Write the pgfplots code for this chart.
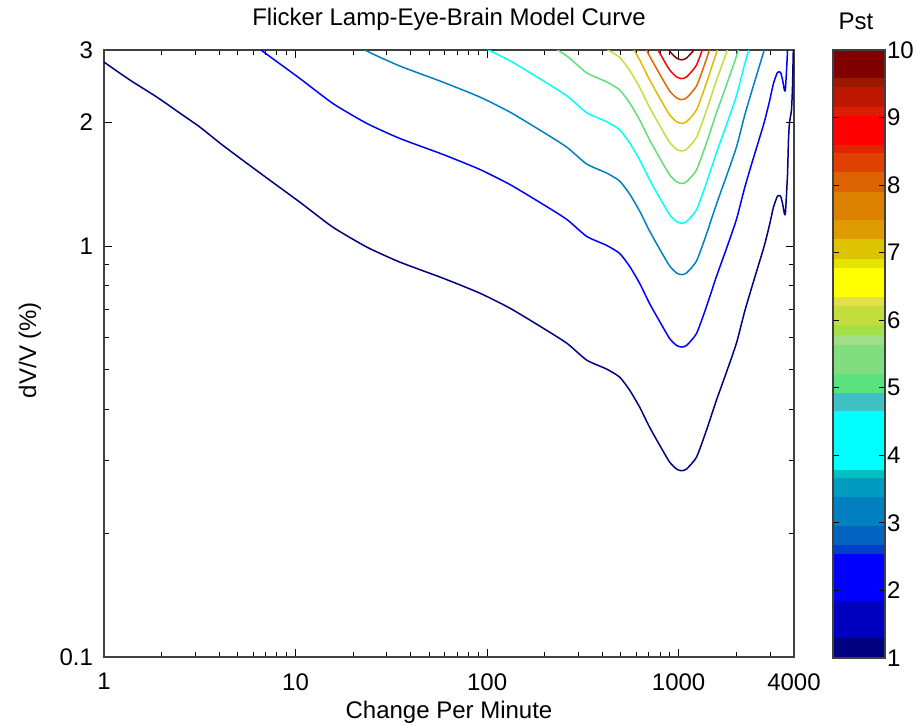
\documentclass[border=0pt]{standalone}
\usepackage{fontspec}
\setmainfont{Liberation Sans}
\usepackage{pgfplots}
\pgfplotsset{compat=1.18}
\definecolor{l1}{RGB}{0,0,128}
\definecolor{l2}{RGB}{0,0,255}
\definecolor{l3}{RGB}{0,128,192}
\definecolor{l4}{RGB}{0,255,255}
\definecolor{l5}{RGB}{95,222,125}
\definecolor{l6}{RGB}{195,222,60}
\definecolor{l7}{RGB}{225,185,0}
\definecolor{l8}{RGB}{222,105,0}
\definecolor{l9}{RGB}{255,0,0}
\definecolor{l10}{RGB}{128,0,0}
\newcommand{\fs}{\fontsize{12}{14}\selectfont}
\begin{document}
\begin{tikzpicture}
\useasboundingbox (0,0) rectangle (459pt,362.5pt);
\begin{axis}[
  at={(52pt,34pt)}, anchor=south west,
  width=345pt, height=303.5pt, scale only axis,
  xmode=log, ymode=log,
  xmin=1, xmax=4000, ymin=0.1, ymax=3,
  xtick={1,10,100,1000,4000}, xticklabels={1,10,100,1000,4000},
  minor xtick={2,3,4,5,6,7,8,9,20,30,40,50,60,70,80,90,200,300,400,500,600,700,800,900,2000,3000},
  ytick={0.1,1,2,3}, yticklabels={0.1,1,2,3},
  minor ytick={0.2,0.3,0.4,0.5,0.6,0.7,0.8,0.9},
  tick align=inside,
  major tick length=4pt, minor tick length=2.5pt,
  tick style={black, line width=0.5pt},
  axis line style={black!75, line width=0.6pt},
  /pgf/number format/assume math mode=true,
  ticklabel style={font=\fs},
  xticklabel style={yshift=-7pt, inner sep=1pt},
  yticklabel style={xshift=-2pt},
  every axis plot/.append style={line width=0.75pt, line join=round, smooth, tension=0.35},
]
\addplot[l1] coordinates {(1,2.804) (1.366,2.535) (1.890,2.304) (2.492,2.106) (3.168,1.948) (4.029,1.781) (5.122,1.637) (7.085,1.464) (10.53,1.279) (15.65,1.112) (23.54,0.9945) (35.01,0.9142) (58.67,0.8358) (91.49,0.7685) (131.2,0.7067) (188.1,0.6389) (260.1,0.5808) (330.8,0.5280) (420.6,0.5020) (491.7,0.4800) (554.5,0.4463) (625.3,0.4058) (705.0,0.3627) (795.3,0.3280) (896.7,0.2982) (975.2,0.2867) (1035,0.284) (1099.6,0.2867) (1240,0.3066) (1398,0.3567) (1576,0.4220) (1778,0.4937) (2004,0.5808) (2207,0.6910) (2401,0.7903) (2611,0.8990) (2806,1.0056) (2980,1.125) (3127,1.244) (3281,1.323) (3402,1.323) (3484,1.272) (3569,1.196) (3612,1.210) (3700,1.488) (3744,1.811) (3789,1.992) (3881,2.142) (3928,2.424) (3975,3.1)};
\addplot[l2] coordinates {(5.122,3.274) (7.085,2.928) (10.53,2.558) (15.65,2.224) (23.54,1.989) (35.01,1.828) (58.67,1.672) (91.49,1.537) (131.2,1.413) (188.1,1.278) (260.1,1.162) (330.8,1.056) (420.6,1.004) (491.7,0.960) (554.5,0.893) (625.3,0.812) (705.0,0.725) (795.3,0.656) (896.7,0.596) (975.2,0.573) (1035,0.568) (1099.6,0.573) (1240,0.613) (1398,0.713) (1576,0.844) (1778,0.987) (2004,1.162) (2207,1.382) (2401,1.581) (2611,1.798) (2806,2.011) (2980,2.250) (3127,2.488) (3281,2.646) (3402,2.646) (3484,2.544) (3569,2.392) (3612,2.420) (3700,2.976) (3744,3.622)};
\addplot[l3] coordinates {(15.65,3.336) (23.54,2.984) (35.01,2.743) (58.67,2.507) (91.49,2.306) (131.2,2.120) (188.1,1.917) (260.1,1.742) (330.8,1.584) (420.6,1.506) (491.7,1.440) (554.5,1.339) (625.3,1.217) (705.0,1.088) (795.3,0.984) (896.7,0.895) (975.2,0.860) (1035,0.852) (1099.6,0.860) (1240,0.920) (1398,1.070) (1576,1.266) (1778,1.481) (2004,1.742) (2207,2.073) (2401,2.371) (2611,2.697) (2806,3.017) (2980,3.375)};
\addplot[l4] coordinates {(91.49,3.074) (131.2,2.827) (188.1,2.556) (260.1,2.323) (330.8,2.112) (420.6,2.008) (491.7,1.920) (554.5,1.785) (625.3,1.623) (705.0,1.451) (795.3,1.312) (896.7,1.193) (975.2,1.147) (1035,1.136) (1099.6,1.147) (1240,1.226) (1398,1.427) (1576,1.688) (1778,1.975) (2004,2.323) (2207,2.764) (2401,3.161)};
\addplot[l5] coordinates {(188.1,3.195) (260.1,2.904) (330.8,2.640) (420.6,2.510) (491.7,2.400) (554.5,2.232) (625.3,2.029) (705.0,1.814) (795.3,1.640) (896.7,1.491) (975.2,1.434) (1035,1.420) (1099.6,1.434) (1240,1.533) (1398,1.784) (1576,2.110) (1778,2.469) (2004,2.904) (2207,3.455)};
\addplot[l6] coordinates {(330.8,3.168) (420.6,3.012) (491.7,2.880) (554.5,2.678) (625.3,2.435) (705.0,2.176) (795.3,1.968) (896.7,1.789) (975.2,1.720) (1035,1.704) (1099.6,1.720) (1240,1.840) (1398,2.140) (1576,2.532) (1778,2.962) (2004,3.485)};
\addplot[l7] coordinates {(491.7,3.360) (554.5,3.124) (625.3,2.841) (705.0,2.539) (795.3,2.296) (896.7,2.087) (975.2,2.007) (1035,1.988) (1099.6,2.007) (1240,2.146) (1398,2.497) (1576,2.954) (1778,3.456)};
\addplot[l8] coordinates {(554.5,3.570) (625.3,3.246) (705.0,2.902) (795.3,2.624) (896.7,2.386) (975.2,2.294) (1035,2.272) (1099.6,2.294) (1240,2.453) (1398,2.854) (1576,3.376)};
\addplot[l9] coordinates {(625.3,3.652) (705.0,3.264) (795.3,2.952) (896.7,2.684) (975.2,2.580) (1035,2.556) (1099.6,2.580) (1240,2.759) (1398,3.210)};
\addplot[l10] coordinates {(705.0,3.627) (795.3,3.280) (896.7,2.982) (975.2,2.867) (1035,2.840) (1099.6,2.867) (1240,3.066) (1398,3.567)};
\end{axis}
\begin{axis}[
  at={(416.5pt,33.5pt)}, anchor=south west,
  width=26pt, height=304pt, scale only axis,
  xmin=0, xmax=1, ymin=1, ymax=10,
  xtick=\empty, ytick={1,2,3,4,5,6,7,8,9,10},
  yticklabel pos=right, ytick pos=both,
  tick align=inside, major tick length=3pt,
  tick style={black, line width=0.6pt},
  axis line style={black!75, line width=0.6pt},
  axis on top,
  /pgf/number format/assume math mode=true,
  ticklabel style={font=\fs},
  yticklabel style={xshift=-2.5pt},
]
\addplot[draw=none, fill={rgb,255:red,0;green,0;blue,128}] coordinates {(0,1) (1,1) (1,1.29) (0,1.29)};
\addplot[draw=none, fill={rgb,255:red,0;green,0;blue,192}] coordinates {(0,1.29) (1,1.29) (1,1.84) (0,1.84)};
\addplot[draw=none, fill={rgb,255:red,0;green,0;blue,255}] coordinates {(0,1.84) (1,1.84) (1,2.54) (0,2.54)};
\addplot[draw=none, fill={rgb,255:red,0;green,64;blue,200}] coordinates {(0,2.54) (1,2.54) (1,2.67) (0,2.67)};
\addplot[draw=none, fill={rgb,255:red,0;green,100;blue,192}] coordinates {(0,2.67) (1,2.67) (1,2.96) (0,2.96)};
\addplot[draw=none, fill={rgb,255:red,0;green,128;blue,192}] coordinates {(0,2.96) (1,2.96) (1,3.38) (0,3.38)};
\addplot[draw=none, fill={rgb,255:red,0;green,155;blue,192}] coordinates {(0,3.38) (1,3.38) (1,3.66) (0,3.66)};
\addplot[draw=none, fill={rgb,255:red,0;green,192;blue,192}] coordinates {(0,3.66) (1,3.66) (1,3.79) (0,3.79)};
\addplot[draw=none, fill={rgb,255:red,0;green,255;blue,255}] coordinates {(0,3.79) (1,3.79) (1,4.66) (0,4.66)};
\addplot[draw=none, fill={rgb,255:red,64;green,192;blue,192}] coordinates {(0,4.66) (1,4.66) (1,4.92) (0,4.92)};
\addplot[draw=none, fill={rgb,255:red,90;green,225;blue,128}] coordinates {(0,4.92) (1,4.92) (1,5.21) (0,5.21)};
\addplot[draw=none, fill={rgb,255:red,128;green,222;blue,128}] coordinates {(0,5.21) (1,5.21) (1,5.64) (0,5.64)};
\addplot[draw=none, fill={rgb,255:red,160;green,222;blue,135}] coordinates {(0,5.64) (1,5.64) (1,5.78) (0,5.78)};
\addplot[draw=none, fill={rgb,255:red,165;green,225;blue,70}] coordinates {(0,5.78) (1,5.78) (1,5.93) (0,5.93)};
\addplot[draw=none, fill={rgb,255:red,195;green,222;blue,60}] coordinates {(0,5.93) (1,5.93) (1,6.21) (0,6.21)};
\addplot[draw=none, fill={rgb,255:red,225;green,225;blue,70}] coordinates {(0,6.21) (1,6.21) (1,6.35) (0,6.35)};
\addplot[draw=none, fill={rgb,255:red,255;green,255;blue,0}] coordinates {(0,6.35) (1,6.35) (1,6.78) (0,6.78)};
\addplot[draw=none, fill={rgb,255:red,228;green,228;blue,0}] coordinates {(0,6.78) (1,6.78) (1,6.90) (0,6.90)};
\addplot[draw=none, fill={rgb,255:red,222;green,195;blue,0}] coordinates {(0,6.90) (1,6.90) (1,7.20) (0,7.20)};
\addplot[draw=none, fill={rgb,255:red,222;green,155;blue,0}] coordinates {(0,7.20) (1,7.20) (1,7.48) (0,7.48)};
\addplot[draw=none, fill={rgb,255:red,220;green,128;blue,0}] coordinates {(0,7.48) (1,7.48) (1,7.90) (0,7.90)};
\addplot[draw=none, fill={rgb,255:red,220;green,100;blue,0}] coordinates {(0,7.90) (1,7.90) (1,8.20) (0,8.20)};
\addplot[draw=none, fill={rgb,255:red,225;green,65;blue,0}] coordinates {(0,8.20) (1,8.20) (1,8.47) (0,8.47)};
\addplot[draw=none, fill={rgb,255:red,225;green,35;blue,0}] coordinates {(0,8.47) (1,8.47) (1,8.59) (0,8.59)};
\addplot[draw=none, fill={rgb,255:red,255;green,0;blue,0}] coordinates {(0,8.59) (1,8.59) (1,9.02) (0,9.02)};
\addplot[draw=none, fill={rgb,255:red,220;green,30;blue,0}] coordinates {(0,9.02) (1,9.02) (1,9.16) (0,9.16)};
\addplot[draw=none, fill={rgb,255:red,190;green,25;blue,0}] coordinates {(0,9.16) (1,9.16) (1,9.45) (0,9.45)};
\addplot[draw=none, fill={rgb,255:red,155;green,25;blue,0}] coordinates {(0,9.45) (1,9.45) (1,9.59) (0,9.59)};
\addplot[draw=none, fill={rgb,255:red,128;green,0;blue,0}] coordinates {(0,9.59) (1,9.59) (1,10) (0,10)};
\end{axis}
\node[font=\fs] at (224.5pt,353pt) {Flicker Lamp-Eye-Brain Model Curve};
\node[font=\fs] at (428pt,352pt) {Pst};
\node[font=\fs, inner sep=1pt] at (224.5pt,6.5pt) {Change Per Minute};
\node[font=\fs, rotate=90] at (15pt,187.5pt) {dV/V (\%)};
\end{tikzpicture}
\end{document}
